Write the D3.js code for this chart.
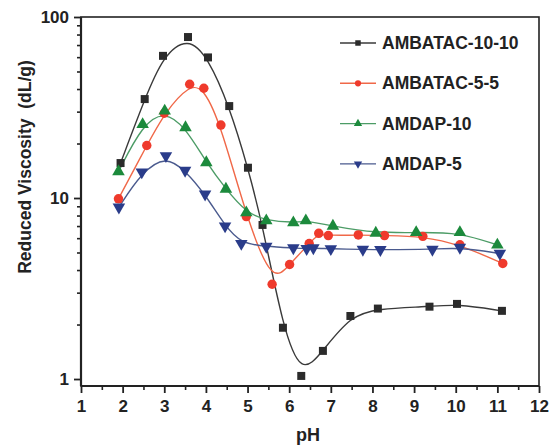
<!DOCTYPE html>
<html>
<head>
<meta charset="utf-8">
<script src="https://cdn.jsdelivr.net/npm/d3@7"></script>
<style>
  body { margin: 0; background: #fff; }
  text { font-family: "Liberation Sans", Arial, sans-serif; font-weight: bold; fill: #222; }
</style>
</head>
<body>
<svg id="svg1" width="551" height="448"></svg>
<script>
// pH values and reduced viscosity (dL/g) per polymer
var ambatac1010 = [[1.95,15.6],[2.53,35.2],[2.97,61],[3.57,77.5],[4.05,59.8],[4.56,32.2],[5.01,14.7],[5.36,7.1],[5.85,1.92],[6.29,1.04],[6.81,1.43],[7.47,2.23],[8.13,2.45],[9.37,2.51],[10.03,2.6],[11.11,2.38]];
var ambatac55 = [[1.9,9.9],[2.58,19.5],[3.0,29.4],[3.61,42.5],[3.95,40.4],[4.36,25.3],[4.97,7.9],[5.59,3.34],[6.01,4.29],[6.48,5.6],[6.71,6.38],[6.94,6.2],[7.66,6.25],[8.29,6.2],[9.21,6.14],[10.1,5.52],[11.13,4.35]];
var amdap10 = [[1.9,14.0],[2.48,25.5],[3.01,30.3],[3.51,24.5],[4.01,15.7],[4.48,11.2],[4.97,8.3],[5.45,7.5],[6.1,7.3],[6.4,7.5],[7.05,7.0],[8.08,6.4],[9.05,6.45],[10.1,6.45],[11.0,5.5]];
var amdap5 = [[1.91,8.9],[2.46,13.9],[3.04,17.1],[3.5,14.2],[3.98,10.5],[4.46,7.0],[4.85,5.6],[5.45,5.4],[6.1,5.3],[6.42,5.25],[6.58,5.3],[7.0,5.24],[7.77,5.2],[8.19,5.18],[9.44,5.2],[10.1,5.33],[11.06,4.94]];

var seriesNames = ["AMBATAC-10-10", "AMBATAC-5-5", "AMDAP-10", "AMDAP-5"];
var xTicks = [1,2,3,4,5,6,7,8,9,10,11,12];
var yTicks = [1, 10, 100];

var series = [
  {name: seriesNames[0], data: ambatac1010, marker: "square", fill: "#2b2b2b", line: "#3a3a3a"},
  {name: seriesNames[1], data: ambatac55, marker: "circle", fill: "#ef3a2c", line: "#f06848"},
  {name: seriesNames[2], data: amdap10, marker: "triangle", fill: "#1c8a3c", line: "#4c9c66"},
  {name: seriesNames[3], data: amdap5, marker: "down", fill: "#2a3c8a", line: "#4a5a8e"}
];

var svg = d3.select("#svg1"),
    margin = {top: 17, right: 12, bottom: 62, left: 81},
    width = +svg.attr("width") - margin.left - margin.right,
    height = +svg.attr("height") - margin.top - margin.bottom,
    g = svg.append("g").attr("transform", "translate(" + margin.left + "," + margin.top + ")");

var x = d3.scaleLinear().domain([1, 12]).range([0, width]);
var y = d3.scaleLog().domain([0.915, 100]).range([height, 0]);

// minor ticks first, then major ones
var xMinor = d3.range(1.5, 12, 1);
var yMinor = [2,3,4,5,6,7,8,9,20,30,40,50,60,70,80,90];

g.append("g")
    .attr("transform", "translate(0," + height + ")")
    .call(d3.axisBottom(x).tickValues(xMinor).tickSize(4).tickFormat(""))
    .call(function(a) { a.select(".domain").remove(); a.selectAll("line").attr("stroke", "#222").attr("stroke-width", 1.6); });

g.append("g")
    .call(d3.axisLeft(y).tickValues(yMinor).tickSize(4).tickFormat(""))
    .call(function(a) { a.select(".domain").remove(); a.selectAll("line").attr("stroke", "#222").attr("stroke-width", 1.6); });

g.append("g")
    .attr("transform", "translate(0," + height + ")")
    .call(d3.axisBottom(x).tickValues(xTicks).tickSize(7).tickPadding(7).tickFormat(d3.format("d")))
    .call(function(a) {
      a.select(".domain").remove();
      a.selectAll("line").attr("stroke", "#222").attr("stroke-width", 1.8);
      a.selectAll("text").style("font-size", "17px").attr("fill", "#222");
    });

g.append("g")
    .call(d3.axisLeft(y).tickValues(yTicks).tickSize(7).tickPadding(5).tickFormat(d3.format("d")))
    .call(function(a) {
      a.select(".domain").remove();
      a.selectAll("line").attr("stroke", "#222").attr("stroke-width", 1.8);
      a.selectAll("text").style("font-size", "17px").attr("fill", "#222");
    });

// frame
g.append("rect")
    .attr("width", width).attr("height", height)
    .attr("fill", "none").attr("stroke", "#222").attr("stroke-width", 1.6);
g.append("line").attr("x1", 0).attr("x2", width).attr("y1", height).attr("y2", height)
    .attr("stroke", "#222").attr("stroke-width", 2.2);
g.append("line").attr("x1", 0).attr("x2", 0).attr("y1", 0).attr("y2", height)
    .attr("stroke", "#222").attr("stroke-width", 2.2);

var line = d3.line()
    .x(function(d) { return x(d[0]); })
    .y(function(d) { return y(d[1]); })
    .curve(d3.curveBasis);

function symbolFor(m, size) {
  var t = m == "square" ? d3.symbolSquare : m == "circle" ? d3.symbolCircle : d3.symbolTriangle;
  return d3.symbol().type(t).size(size)();
}

series.forEach(function(s) {
  g.append("path")
    .datum(s.data)
    .attr("fill", "none")
    .attr("stroke", s.line)
    .attr("stroke-width", 1.4)
    .attr("d", line);
});

series.forEach(function(s) {
  var size = s.marker == "square" ? 64 : s.marker == "circle" ? 70 : 68;
  g.selectAll(".pt-" + s.marker)
    .data(s.data)
    .enter().append("path")
      .attr("class", "pt-" + s.marker)
      .attr("transform", function(d) {
        return "translate(" + x(d[0]) + "," + y(d[1]) + ")" + (s.marker == "down" ? " rotate(180)" : "");
      })
      .attr("d", symbolFor(s.marker, size))
      .attr("fill", s.fill);
});

// legend
var legend = svg.append("g").attr("transform", "translate(340,43)");
series.forEach(function(s, i) {
  var row = legend.append("g").attr("transform", "translate(0," + (i * 40.3) + ")");
  row.append("line").attr("x1", 0).attr("x2", 36).attr("stroke", s.line).attr("stroke-width", 1.4);
  row.append("path")
    .attr("transform", "translate(18,0)" + (s.marker == "down" ? " rotate(180)" : ""))
    .attr("d", symbolFor(s.marker, 30))
    .attr("fill", s.fill);
  row.append("text")
    .attr("x", 42).attr("y", 6)
    .style("font-size", "17.5px")
    .text(s.name);
});

// axis labels
svg.append("text")
  .attr("x", margin.left + width / 2 - 2)
  .attr("y", 441)
  .attr("text-anchor", "middle")
  .style("font-size", "18px")
  .text("pH");

svg.append("text")
  .attr("transform", "translate(31,167) rotate(-90)")
  .attr("text-anchor", "middle")
  .style("font-size", "17.5px")
  .attr("xml:space", "preserve")
  .style("white-space", "pre")
  .text("Reduced Viscosity  (dL/g)");
</script>
</body>
</html>
